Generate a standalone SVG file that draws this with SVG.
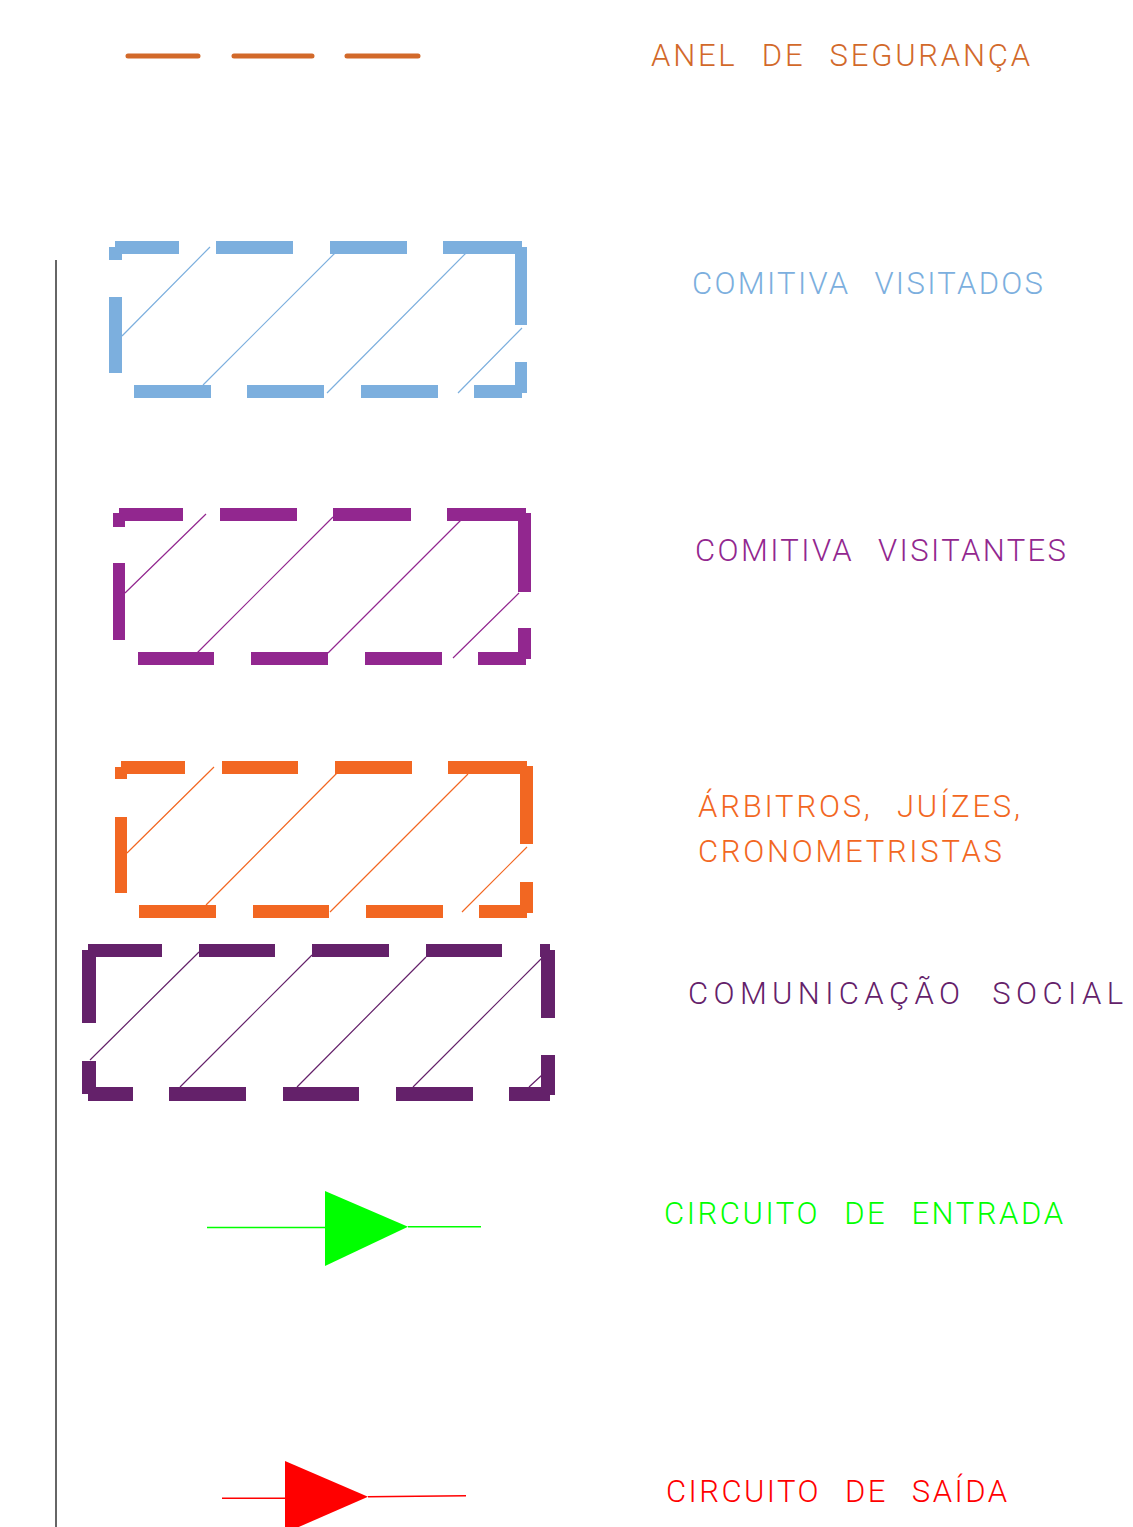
<svg xmlns="http://www.w3.org/2000/svg" width="1133" height="1527" viewBox="0 0 1133 1527">
<style>
.lbl{font-family:Roboto,"Liberation Sans",sans-serif;font-weight:300;font-size:31px;word-spacing:14px}
.hatch{fill:none;stroke-width:1.2}
.blue{fill:#7CAFDE}.blueS{stroke:#7CAFDE}
.purp{fill:#92278F}.purpS{stroke:#92278F}
.orng{fill:#F26722}.orngS{stroke:#F26722}
.dprp{fill:#64216A}.dprpS{stroke:#64216A}
</style>
<rect width="1133" height="1527" fill="#ffffff"/>
<line x1="56" y1="260" x2="56" y2="1527" stroke="#333333" stroke-width="1.5"/>

<g id="anel-seguranca">
<path d="M128 56H198M234 56H312M347 56H418" stroke="#D2692A" stroke-width="5" stroke-linecap="round" fill="none"/>
<text class="lbl" x="651" y="66" fill="#D2692A" textLength="379" lengthAdjust="spacing">ANEL DE SEGURANÇA</text>
</g>

<g id="comitiva-visitados">
<path class="blue" d="M115 241H179V254H115ZM216 241H293V254H216ZM330 241H407V254H330ZM443 241H522V254H443ZM109 247H122V260H109ZM109 297H122V373H109ZM515 247H527V325H515ZM515 362H527V393H515ZM134 385H211V398H134ZM247 385H324V398H247ZM361 385H438V398H361ZM474 385H522V398H474Z"/>
<path class="hatch blueS" d="M122 336L210 247M203 385L335 253M327 393L466 253M458 393L522 328"/>
<text class="lbl" x="692" y="294" fill="#7CAFDE" textLength="351" lengthAdjust="spacing">COMITIVA VISITADOS</text>
</g>

<g id="comitiva-visitantes">
<path class="purp" d="M119 508H183V521H119ZM220 508H297V521H220ZM333 508H411V521H333ZM447 508H526V521H447ZM113 513H125V527H113ZM113 563H125V640H113ZM518 513H531V592H518ZM518 628H531V659H518ZM138 652H214V665H138ZM251 652H328V665H251ZM365 652H442V665H365ZM478 652H526V665H478Z"/>
<path class="hatch purpS" d="M125 593L206 514M197 653L333 517M328 653L461 520M453 658L519 593"/>
<text class="lbl" x="695" y="561" fill="#92278F" textLength="371" lengthAdjust="spacing">COMITIVA VISITANTES</text>
</g>

<g id="arbitros">
<path class="orng" d="M121 761H185V774H121ZM222 761H298V774H222ZM335 761H412V774H335ZM448 761H527V774H448ZM115 767H127V779H115ZM115 817H127V893H115ZM520 766H533V844H520ZM520 882H533V913H520ZM139 905H216V918H139ZM253 905H329V918H253ZM366 905H443V918H366ZM479 905H527V918H479Z"/>
<path class="hatch orngS" d="M127 853L214 767M206 905L337 773M330 912L468 774M462 912L527 847"/>
<text class="lbl" fill="#F26722"><tspan x="698" y="817" textLength="322" lengthAdjust="spacing">ÁRBITROS, JUÍZES,</tspan><tspan x="698" y="862" textLength="304" lengthAdjust="spacing">CRONOMETRISTAS</tspan></text>
</g>

<g id="comunicacao-social">
<path class="dprp" d="M88 944H162V957H88ZM199 944H275V957H199ZM312 944H389V957H312ZM426 944H502V957H426ZM540 944H550V957H540ZM82 950H96V1023H82ZM82 1061H96V1094H82ZM88 1087H133V1101H88ZM169 1087H246V1101H169ZM283 1087H359V1101H283ZM396 1087H473V1101H396ZM509 1087H550V1101H509ZM541 950H555V1018H541ZM541 1055H555V1095H541Z"/>
<path class="hatch dprpS" d="M90 1060L199 952M180 1087L312 955M297 1087L426 957M413 1087L542 958M529 1087L542 1075"/>
<text class="lbl" x="688" y="1004" fill="#64216A" textLength="435" lengthAdjust="spacing">COMUNICAÇÃO SOCIAL</text>
</g>

<g id="circuito-entrada">
<path d="M207 1227.5H325M408 1226.7H481" stroke="#00FF00" stroke-width="1.6" fill="none"/>
<polygon points="325,1191 325,1266 408,1226.7" fill="#00FF00"/>
<text class="lbl" x="664" y="1224" fill="#00FF00" textLength="399" lengthAdjust="spacing">CIRCUITO DE ENTRADA</text>
</g>

<g id="circuito-saida">
<path d="M222 1498.3H286M368 1496.7L466 1495.7" stroke="#FF0000" stroke-width="1.6" fill="none"/>
<polygon points="285,1461 285,1533 368,1496.7" fill="#FF0000"/>
<text class="lbl" x="666" y="1502" fill="#FF0000" textLength="341" lengthAdjust="spacing">CIRCUITO DE SAÍDA</text>
</g>
</svg>
